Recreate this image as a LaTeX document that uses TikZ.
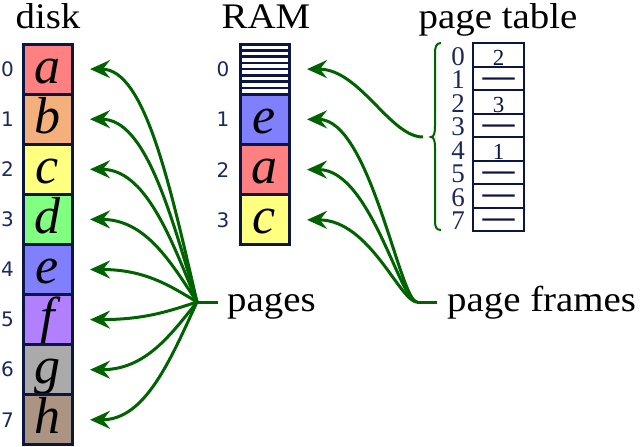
\documentclass[tikz,border=0pt]{standalone}
\usepackage{fontspec}
\setmainfont{Liberation Serif}
\newfontfamily\wideserif{Liberation Serif}[FakeStretch=1.08]
\newfontfamily\numfont{DejaVu Sans}
\usetikzlibrary{arrows.meta}
\definecolor{navy}{RGB}{12,22,66}
\definecolor{numc}{RGB}{28,40,92}
\definecolor{grn}{RGB}{0,98,0}
\definecolor{ca}{RGB}{255,128,128}
\definecolor{cb}{RGB}{244,176,124}
\definecolor{cc}{RGB}{255,255,128}
\definecolor{cd}{RGB}{128,255,128}
\definecolor{ce}{RGB}{128,128,255}
\definecolor{cf}{RGB}{176,128,255}
\definecolor{cg}{RGB}{170,170,170}
\definecolor{ch}{RGB}{172,148,130}
\begin{document}
\begin{tikzpicture}[x=1pt,y=-1pt,
  cell/.style={draw=navy,line width=3pt,minimum width=49pt,minimum height=50.1pt,
    inner sep=0pt,outer sep=0pt,font=\fontsize{52}{52}\selectfont\itshape,
    text height=28pt,text depth=0pt},
  idx/.style={text=numc,font=\numfont\fontsize{20}{20}\selectfont,inner sep=0pt},
  ptcell/.style={draw=navy,line width=2pt,minimum width=51pt,minimum height=23.5pt,
    inner sep=0pt,outer sep=0pt,text=navy,font=\fontsize{23}{23}\selectfont,
    text height=21pt,text depth=0pt},
  ptdash/.style={ptcell,font=\fontsize{32}{32}\selectfont\bfseries,text height=16pt},
  ptidx/.style={text=numc,font=\fontsize{27}{27}\selectfont,inner sep=0pt,anchor=base},
  head/.style={font=\wideserif\fontsize{36}{36}\selectfont,inner sep=0pt,anchor=base},
  arr/.style={draw=grn,line width=3pt,-{Stealth[length=20pt,width=18pt,inset=7pt]}},
  gline/.style={draw=grn,line width=3pt},
  brace/.style={draw=grn,line width=2pt}]
\useasboundingbox (0,0) rectangle (640,447);

% headings
\node[head] (hdisk) at (48,28) {disk};
\node[head] (hram) at (266,28) {RAM};
\node[head] (hpt) at (498,28) {page table};

% disk
\foreach \i/\l/\c in {0/a/ca,1/b/cb,2/c/cc,3/d/cd,4/e/ce,5/f/cf,6/g/cg,7/h/ch}{
  \pgfmathsetmacro\yy{69.1+50.1*\i}
  \node[cell,fill=\c] (d\i) at (47.5,\yy) {\l};
  \node[idx] (dl\i) at (7.5,\yy) {\i};
  \coordinate (dt\i) at (90,\yy);
}

% RAM
\node[cell,fill=white] (r0) at (264.5,69.1) {};
\foreach \k in {1,...,7}{
  \draw[navy,line width=2.6pt] ([yshift={-6.28*\k pt}]r0.north west) -- ([yshift={-6.28*\k pt}]r0.north east);
}
\foreach \i/\l/\c in {1/e/ce,2/a/ca,3/c/cc}{
  \pgfmathsetmacro\yy{69.1+50.25*\i}
  \node[cell,fill=\c] (r\i) at (264.5,\yy) {\l};
}
\foreach \i in {0,...,3}{
  \pgfmathsetmacro\yy{69.1+50.25*\i}
  \node[idx] (rl\i) at (223,\yy) {\i};
  \coordinate (rt\i) at (307,\yy);
}

% page table
\foreach \i/\v/\s in {0/2/ptcell,1/—/ptdash,2/3/ptcell,3/—/ptdash,4/1/ptcell,5/—/ptdash,6/—/ptdash,7/—/ptdash}{
  \pgfmathsetmacro\yy{54.75+23.5*\i}
  \node[\s] (p\i) at (498.5,\yy) {\v};
  \pgfmathsetmacro\yb{65+23.5*\i}
  \node[ptidx] (pl\i) at (458,\yb) {\i};
}

% brace
\draw[brace] (441,43) .. controls (436,43) and (435,47) .. (435,54) -- (435,126)
  .. controls (435,133) and (434,137) .. (431,137)
  .. controls (434,137) and (435,141) .. (435,148) -- (435,220)
  .. controls (435,227) and (436,230) .. (441,230);
\coordinate (bt) at (423,137);

% pages
\coordinate (pc) at (197,302);
\coordinate (pe) at (218,302);
\node[head,anchor=base west] (pg) at (227,311) {pages};
\draw[gline] (pc) -- (pe);
\foreach \i in {0,...,7}{
  \pgfmathsetmacro\yy{69.1+50.1*\i}
  \pgfmathsetmacro\ym{(302+\yy)/2}
  \draw[arr] (pc) .. controls (170,\ym) and (145,\yy) .. (dt\i);
}

% page frames
\coordinate (fc) at (417,302);
\coordinate (fe) at (437,302);
\node[head,anchor=base west] (pf) at (447,311) {page frames};
\draw[gline] (fc) -- (fe);
\foreach \i in {1,2,3}{
  \pgfmathsetmacro\yy{69.1+50.25*\i}
  \draw[arr] (fc) .. controls (400,302) and (370,\yy) .. (rt\i);
}
\draw[arr] (bt) .. controls (390,137) and (360,69.1) .. (rt0);
\end{tikzpicture}
\end{document}
